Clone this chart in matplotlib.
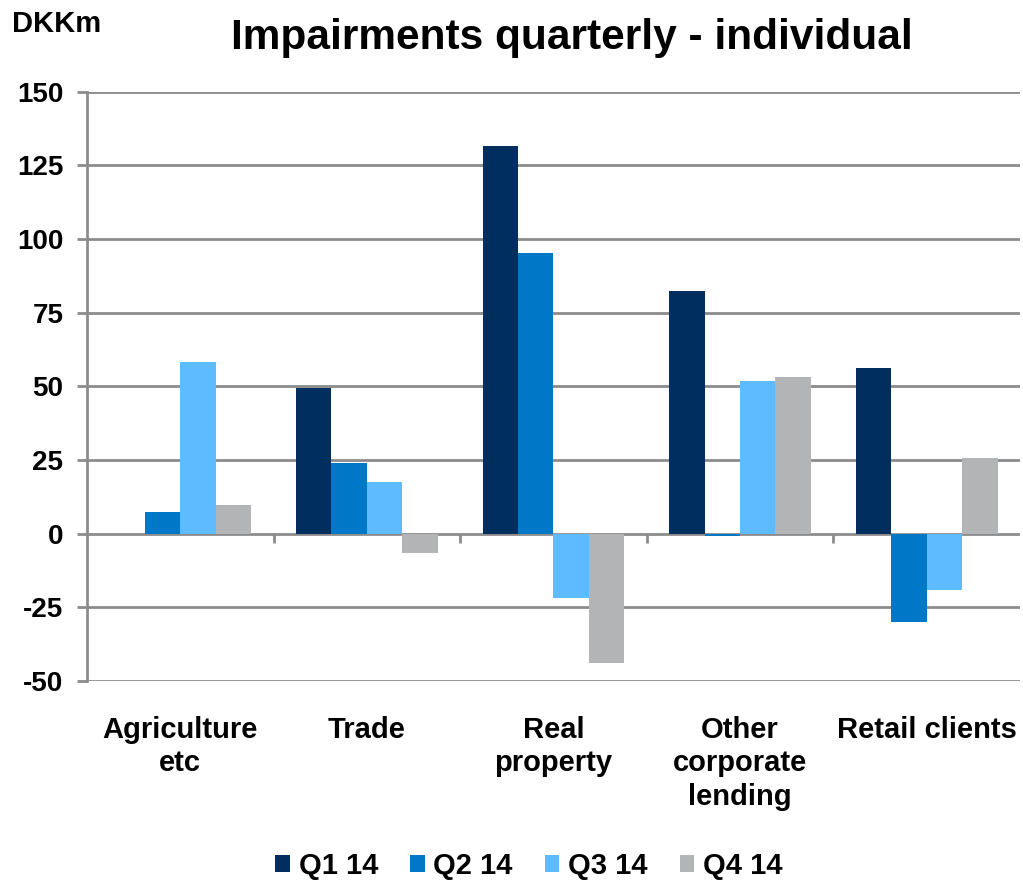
import numpy as np
import matplotlib
matplotlib.use("Agg")
import matplotlib.pyplot as plt
from matplotlib.patches import Patch

# data (DKKm)
categories = ["Agriculture\netc", "Trade", "Real\nproperty", "Other\ncorporate\nlending", "Retail clients"]
series_names = ["Q1 14", "Q2 14", "Q3 14", "Q4 14"]
q1 = [0.0, 49.4, 131.5, 82.2, 56.2]
q2 = [7.3, 24.1, 95.1, -0.9, -30.0]
q3 = [58.1, 17.6, -21.7, 51.8, -19.1]
q4 = [9.6, -6.4, -43.9, 53.3, 25.7]
yticks = [-50, -25, 0, 25, 50, 75, 100, 125, 150]

colors = ["#002F5F", "#0078C8", "#5EBBFF", "#B3B4B6"]
grid_col = "#8C8C8C"

plt.rcParams['font.family'] = ['Liberation Sans', 'DejaVu Sans']
plt.rcParams['font.weight'] = 'bold'

fig = plt.figure(figsize=(10.23, 8.81), dpi=100)
ax = fig.add_axes([0.085, 0.227, 0.912, 0.669])

x = np.arange(len(categories))
width = 0.19
all_series = [q1, q2, q3, q4]
for i, vals in enumerate(all_series):
    offs = (i - 1.5) * width
    ax.bar(x + offs, vals, width, color=colors[i], zorder=3, linewidth=0)

ax.set_xlim(-0.5, len(categories) - 0.5)
ax.set_ylim(-50, 150)
ax.set_yticks(yticks)
ax.set_yticklabels([str(t) for t in yticks], fontsize=20, fontweight='bold')
ax.grid(True, axis='y', color=grid_col, linewidth=2, zorder=0)

ax.set_xticks(x)
ax.set_xticklabels(categories, fontsize=21, fontweight='bold', linespacing=1.25, va='top')
ax.tick_params(axis='x', length=0, pad=25)
ax.tick_params(axis='y', length=7, width=2, color=grid_col, pad=10)

for s in ["top", "right", "bottom"]:
    ax.spines[s].set_visible(False)
ax.spines["left"].set_color(grid_col)
ax.spines["left"].set_linewidth(2)

# small tick marks between groups on the zero line
ax.vlines(x[1:] - 0.5, -3.3, 0, color=grid_col, linewidth=2, zorder=2)

fig.text(0.012, 0.973, "DKKm", fontsize=21, fontweight='bold', ha='left', va='center')
fig.text(0.559, 0.957, "Impairments quarterly - individual", fontsize=30.5, fontweight='bold',
         ha='center', va='center')

handles = [Patch(facecolor=c, edgecolor='none') for c in colors]
fig.legend(handles, series_names, loc='center', bbox_to_anchor=(0.517, 0.017), ncol=4,
           frameon=False, handlelength=0.5, handleheight=0.5,
           handletextpad=0.3, columnspacing=1.1, prop={'weight': 'bold', 'size': 21})

fig.savefig("out.png", dpi=100)
